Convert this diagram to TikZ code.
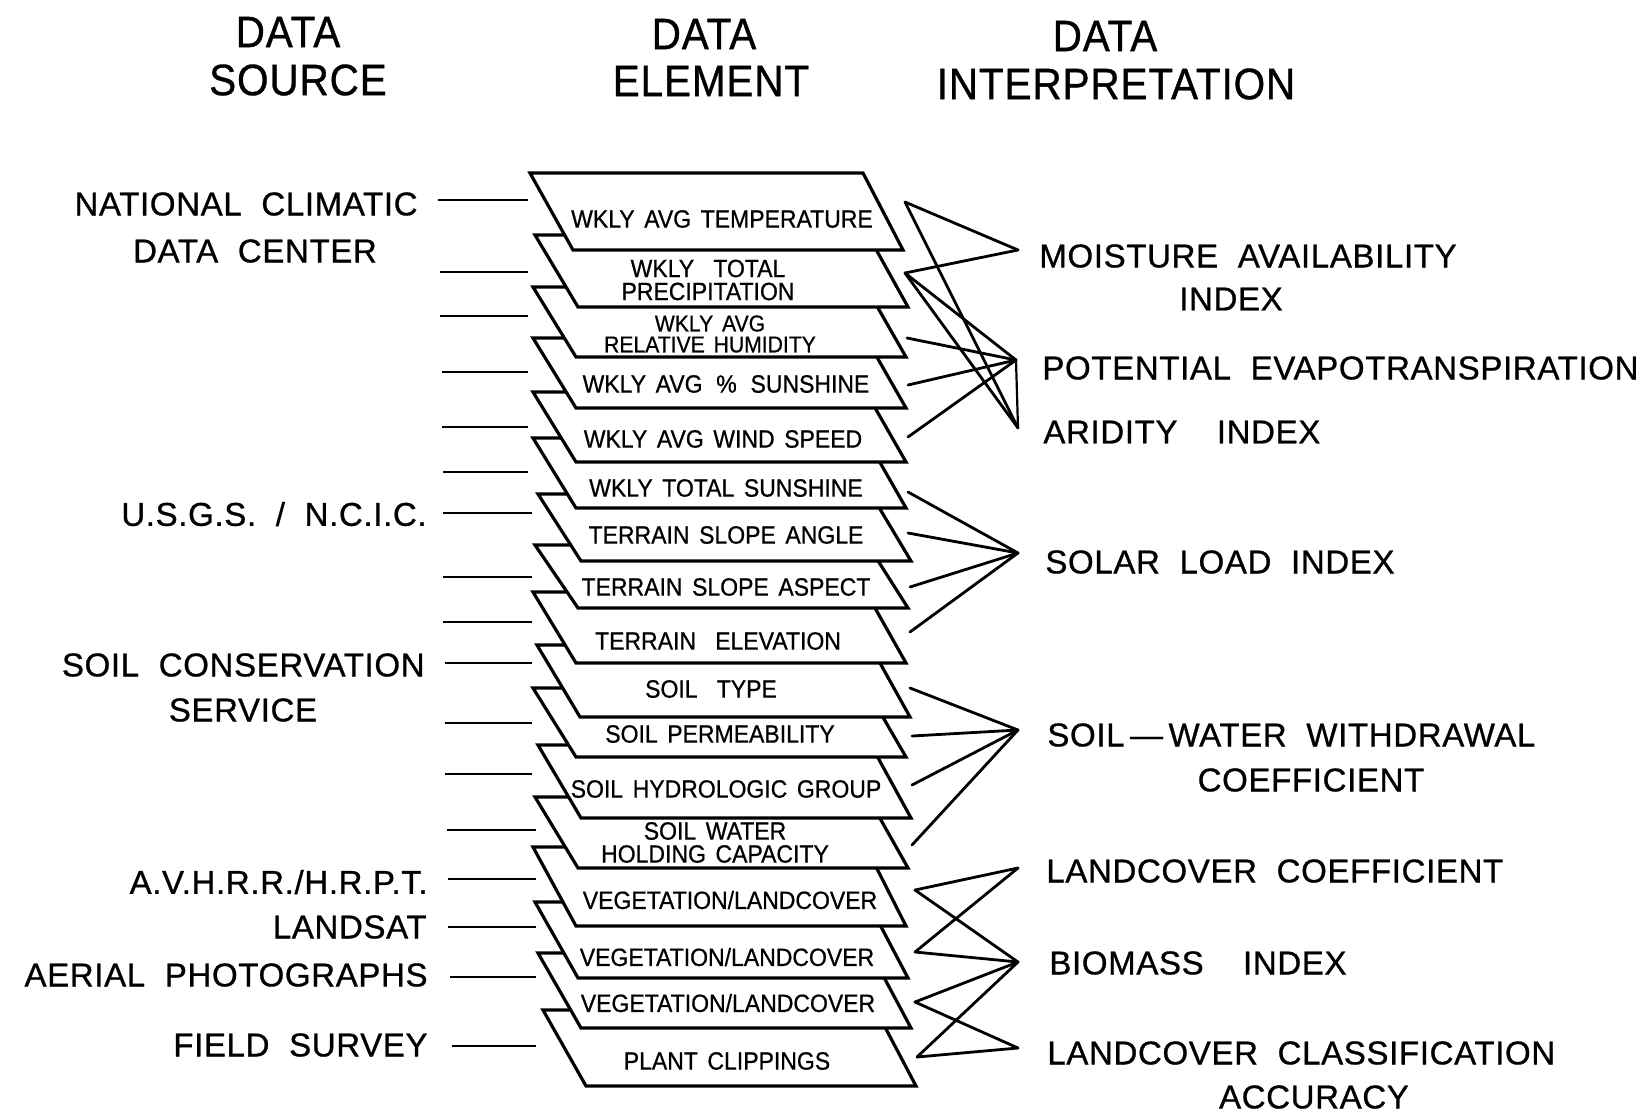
\documentclass[tikz,border=0pt]{standalone}
\usepackage{fontspec}
\setmainfont{Liberation Sans}
\newfontfamily\hdfont[FakeStretch=0.92,LetterSpace=2,FakeBold=0.8]{Liberation Sans}
\newfontfamily\labfont[LetterSpace=2,WordSpace=2,FakeBold=0.8]{Liberation Sans}
\newfontfamily\bxfont[FakeStretch=0.92,WordSpace=1.5,FakeBold=0.7]{Liberation Sans}
\newcommand\drawlayer[3]{\path[layer] (#1,#2) -- (#1+333,#2) -- (#1+373,#3) -- (#1+43,#3) -- cycle;}
\begin{document}
\begin{tikzpicture}[x=0.5pt,y=-0.5pt,
  layer/.style={draw=black,fill=white,line width=1.6pt},
  bx/.style={font=\bxfont\fontsize{12.5}{11.5}\selectfont,align=center,inner sep=0pt},
  lab/.style={font=\labfont\fontsize{16.5}{20}\selectfont,inner sep=0pt},
  hd/.style={font=\hdfont\fontsize{22}{26}\selectfont,inner sep=0pt},
  feed/.style={line width=1.3pt},
  con/.style={line width=1.4pt,line cap=round}]
\useasboundingbox (0,0) rectangle (1645,1116);

% headers
\node[hd] (h1a) at (288,32) {DATA};
\node[hd] (h1b) at (298,80) {SOURCE};
\node[hd] (h2a) at (704,34) {DATA};
\node[hd] (h2b) at (711,81) {ELEMENT};
\node[hd] (h3a) at (1105,36) {DATA};
\node[hd] (h3b) at (1116,84) {INTERPRETATION};

% stacked layers, bottom first
\drawlayer{543}{1010}{1086}
\node[bx] (t17) at (727,1061) {PLANT CLIPPINGS};
\drawlayer{538}{953}{1028}
\node[bx] (t16) at (728,1003) {VEGETATION/LANDCOVER};
\drawlayer{535}{902}{978}
\node[bx] (t15) at (727,957) {VEGETATION/LANDCOVER};
\drawlayer{533}{847}{926}
\node[bx] (t14) at (730,900) {VEGETATION/LANDCOVER};
\drawlayer{535}{797}{868}
\node[bx] (t13) at (715,842.5) {SOIL WATER\\HOLDING CAPACITY};
\drawlayer{538}{745}{818}
\node[bx] (t12) at (726,789) {SOIL HYDROLOGIC GROUP};
\drawlayer{533}{688}{757}
\node[bx] (t11) at (720,734) {SOIL PERMEABILITY};
\drawlayer{537}{645}{717}
\node[bx] (t10) at (711,689) {SOIL\ \ TYPE};
\drawlayer{533}{592}{663}
\node[bx] (t9) at (718,641) {TERRAIN\ \ ELEVATION};
\drawlayer{535}{545}{608}
\node[bx] (t8) at (726,587) {TERRAIN SLOPE ASPECT};
\drawlayer{538}{494}{561}
\node[bx] (t7) at (726,535) {TERRAIN SLOPE ANGLE};
\drawlayer{533}{438}{508}
\node[bx] (t6) at (726,488) {WKLY TOTAL SUNSHINE};
\drawlayer{533}{392}{462}
\node[bx] (t5) at (723,439) {WKLY AVG WIND SPEED};
\drawlayer{533}{338}{408}
\node[bx] (t4) at (726,384) {WKLY AVG \,\%\, SUNSHINE};
\drawlayer{533}{287}{357}
\node[bx,font=\bxfont\fontsize{11.5}{10.5}\selectfont] (t3) at (710,334) {WKLY AVG\\RELATIVE HUMIDITY};
\drawlayer{535}{235}{307}
\node[bx] (t2) at (708,280) {WKLY\ \ TOTAL\\PRECIPITATION};
\drawlayer{530}{173}{250}
\node[bx] (t1) at (722,219) {WKLY AVG TEMPERATURE};

% source lines
\foreach \n/\xs/\xe/\yy in {1/438/528/200,2/440/528/272,3/440/528/316,4/442/528/372,
  5/442/528/427,6/443/528/472,7/443/532/513,8/443/532/577,9/443/532/622,
  10/445/532/663,11/445/532/723,12/445/532/774,13/447/536/830,14/448/536/879,
  15/448/536/927,16/450/536/977,17/452/536/1046}{
  \coordinate (s\n) at (\xs,\yy);
  \coordinate (a\n) at (\xe,\yy);
  \draw[feed] (s\n) -- (a\n);
}

% source labels
\node[lab,anchor=east] (n1) at (418,204) {NATIONAL CLIMATIC};
\node[lab] (n1b) at (255,251) {DATA CENTER};
\node[lab,anchor=east] (n2) at (427,514) {U.S.G.S. / N.C.I.C.};
\node[lab,anchor=east] (n3) at (425,665) {SOIL CONSERVATION};
\node[lab] (n3b) at (243,710) {SERVICE};
\node[lab,anchor=east] (n4) at (428,882) {A.V.H.R.R./H.R.P.T.};
\node[lab,anchor=east] (n5) at (427,927) {LANDSAT};
\node[lab,anchor=east] (n6) at (428,975) {AERIAL PHOTOGRAPHS};
\node[lab,anchor=east] (n7) at (428,1045) {FIELD SURVEY};

% right attachment points
\foreach \n/\xx/\yy in {1/905/202,2/905/273,3/907/338,4/908/385,5/908/437,
  6/908/492,7/908/533,8/910/587,9/910/632,10/910/688,11/912/736,12/912/785,
  13/912/845,14/915/890,15/915/952,16/915/1002,17/917/1057}{
  \coordinate (r\n) at (\xx,\yy);
}

% apex points
\coordinate (cM) at (1018,250);
\coordinate (cP) at (1016,360);
\coordinate (cR) at (1018,428);
\coordinate (cS) at (1018,553);
\coordinate (cW) at (1018,730);
\coordinate (cLC) at (1018,868);
\coordinate (cBI) at (1018,962);
\coordinate (cLA) at (1018,1048);

% connectors
\draw[con] (r1) -- (cM);
\draw[con] (r2) -- (cM);
\draw[con] (r1) -- (cR);
\draw[con] (r2) -- (cR);
\draw[con,line width=1.1pt] (cP) -- (cR);
\foreach \i in {2,3,4,5} \draw[con] (r\i) -- (cP);
\foreach \i in {6,7,8,9} \draw[con] (r\i) -- (cS);
\foreach \i in {10,11,12,13} \draw[con] (r\i) -- (cW);
\foreach \i in {14,15} \draw[con] (r\i) -- (cLC);
\foreach \i in {14,15,16,17} \draw[con] (r\i) -- (cBI);
\foreach \i in {16,17} \draw[con] (r\i) -- (cLA);

% interpretation labels
\node[lab,anchor=west] (m1) at (1039,256) {MOISTURE AVAILABILITY};
\node[lab] (m1b) at (1231,299) {INDEX};
\node[lab,anchor=west] (m2) at (1042,368) {POTENTIAL EVAPOTRANSPIRATION};
\node[lab,anchor=west] (m3) at (1043,432) {ARIDITY\ \ INDEX};
\node[lab,anchor=west] (m4) at (1045,562) {SOLAR LOAD INDEX};
\node[lab,anchor=west] (m5) at (1047,735) {SOIL\,—\,WATER WITHDRAWAL};
\node[lab] (m5b) at (1311,780) {COEFFICIENT};
\node[lab,anchor=west] (m6) at (1046,871) {LANDCOVER COEFFICIENT};
\node[lab,anchor=west] (m7) at (1049,963) {BIOMASS\ \ INDEX};
\node[lab,anchor=west] (m8) at (1047,1053) {LANDCOVER CLASSIFICATION};
\node[lab] (m8b) at (1314,1097) {ACCURACY};
\end{tikzpicture}
\end{document}
